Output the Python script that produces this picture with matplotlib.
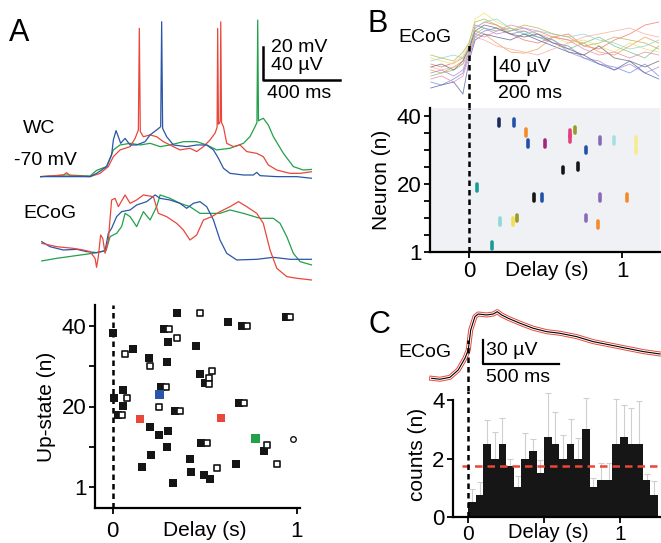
import numpy as np
import matplotlib
matplotlib.use("Agg")
import matplotlib.pyplot as plt
import matplotlib.patheffects as pe

plt.rcParams["font.family"] = ["Liberation Sans", "DejaVu Sans"]

W, H = 661, 543

# ---------- panel A : example traces (ms, mV / uV) ----------
wc_blue_t = [0, 121, 260, 294, 346, 372, 381, 395, 407, 419, 442, 468, 502, 546, 572, 606, 627, 632, 637,
             658, 693, 762, 814, 866, 901, 927, 953, 987, 1057, 1108, 1126, 1143, 1230, 1334, 1412]
wc_blue_v = [-69.8, -69.8, -69.8, -67.8, -63.7, -56.7, -47.6, -41.9, -45.6, -49.6, -46.6, -50.6, -50.6, -48.6,
             -44.5, -41.5, -39.5, 24.1, -40.5, -45.6, -50.6, -51.6, -50.6, -50.6, -53.6, -58.7, -64.7, -67.8,
             -68.8, -68.8, -67.2, -69.2, -69.8, -69.8, -70.8]
wc_red_t = [0, 121, 139, 156, 260, 312, 355, 381, 416, 468, 494, 511, 516, 521, 537, 572, 606, 641, 693, 727,
            779, 814, 849, 883, 909, 920, 923, 927, 932, 936, 939, 943, 953, 970, 1005, 1039, 1074, 1126, 1160,
            1186, 1230, 1299, 1351, 1412]
wc_red_v = [-69.8, -68.8, -67.4, -69.2, -69.8, -67.8, -63.7, -57.7, -53.6, -51.6, -46.6, -41.5, 20.1, -42.5,
            -45.6, -44.5, -45.6, -48.6, -51.6, -53.6, -52.6, -54.6, -51.6, -47.6, -43.5, -40.0, 20.0, -38.0,
            -37.5, -36.0, 24.0, -37.0, -39.5, -49.6, -51.6, -50.6, -54.6, -55.7, -57.7, -62.7, -65.8, -67.8,
            -67.8, -66.8]
wc_green_t = [0, 139, 260, 294, 346, 381, 416, 468, 520, 572, 624, 676, 745, 814, 866, 918, 987, 1057, 1091,
              1117, 1127, 1131, 1135, 1143, 1160, 1186, 1212, 1264, 1316, 1368, 1412]
wc_green_v = [-69.8, -68.8, -69.4, -66.0, -63.7, -53.6, -50.6, -49.6, -50.6, -49.6, -51.6, -50.6, -48.6, -48.6,
              -50.6, -53.6, -52.6, -49.6, -45.5, -39.5, -37.0, 25.1, -36.0, -35.4, -34.4, -38.5, -45.5, -55.6,
              -63.7, -65.8, -65.4]

ecog_red_t = [9, 87, 173, 225, 260, 286, 294, 303, 315, 326, 338, 355, 372, 390, 407, 442, 468, 502, 537, 589,
              615, 658, 710, 745, 779, 814, 849, 892, 935, 987, 1031, 1074, 1126, 1160, 1195, 1230, 1282, 1334, 1412]
ecog_red_v = [8.1, 4.0, 2.0, 0.0, -2.0, -10.1, -21.0, -8.1, 18.2, 14.1, -4.0, 12.1, 60.6, 62.6, 52.5, 66.7,
              56.6, 60.6, 66.7, 64.6, 44.4, 40.4, 32.3, 24.2, 12.1, 18.2, 36.4, 40.4, 46.5, 52.5, 58.6, 52.5,
              44.4, 32.3, 0.0, -22.2, -32.3, -34.3, -36.4]
ecog_blue_t = [9, 52, 121, 191, 242, 294, 338, 355, 372, 398, 424, 468, 502, 554, 598, 624, 676, 727, 762, 797,
               831, 866, 901, 935, 970, 1022, 1126, 1212, 1299, 1412]
ecog_blue_v = [10.1, 4.0, 0.0, 0.8, -2.0, -3.2, -0.8, 20.2, 26.3, 40.4, 46.5, 48.5, 54.5, 58.6, 66.7, 62.6,
               60.6, 56.6, 50.5, 56.6, 58.6, 52.5, 36.4, 12.1, -4.0, -12.1, -11.3, -8.9, -11.3, -11.3]
ecog_green_t = [9, 87, 173, 251, 294, 343, 364, 398, 424, 442, 468, 502, 537, 572, 606, 624, 676, 727, 779, 831,
                883, 935, 987, 1057, 1143, 1212, 1247, 1282, 1316, 1351, 1412]
ecog_green_v = [-13.3, -10.1, -7.3, -4.8, -3.2, -0.8, 16.2, 20.2, 28.3, 44.4, 40.4, 28.3, 46.5, 36.4, 52.5,
                66.7, 62.6, 56.6, 52.5, 44.4, 44.4, 44.4, 48.5, 44.4, 38.4, 38.4, 32.3, 16.2, -4.0, -14.1, -18.2]

# ---------- panel A : up-state onset delays ----------
filled_x = [0.004, 0.348, 0.629, 0.705, 0.942, 0.279, 0.303, 0.453, 0.112, 0.196, 0.295, 0.475, 0.5, 0.263,
            0.056, 0.007, 0.056, 0.031, 0.688, 0.337, 0.205, 0.254, 0.303, 0.295, 0.482, 0.207, 0.161, 0.422,
            0.424, 0.496, 0.529, 0.33, 0.67, 0.822]
filled_y = [38.1, 43.2, 41.0, 40.0, 42.2, 39.1, 35.9, 35.0, 34.1, 32.1, 31.0, 28.0, 25.7, 24.9, 24.2, 22.0,
            20.1, 17.9, 20.9, 19.0, 15.0, 12.9, 14.0, 9.9, 10.9, 8.0, 5.1, 7.0, 3.9, 3.1, 2.0, 1.0, 5.9, 9.0]
open_x = [0.475, 0.732, 0.964, 0.306, 0.35, 0.065, 0.201, 0.538, 0.525, 0.522, 0.288, 0.078, 0.25, 0.368,
          0.716, 0.053, 0.511, 0.837, 0.567, 0.893]
open_y = [43.1, 40.0, 42.2, 39.1, 36.9, 33.0, 30.0, 28.8, 27.0, 25.6, 24.9, 22.0, 20.0, 19.0, 20.9, 17.9,
          10.9, 10.6, 4.9, 5.9]
circle_x = [0.982]
circle_y = [11.9]
example_x = [0.15, 0.254, 0.589, 0.777]
example_y = [16.9, 23.0, 17.1, 12.1]
example_c = ["#e8473a", "#2a55a8", "#e8473a", "#22a04a"]

# ---------- panel B : ECoG traces (s, uV) and neuron raster ----------
tb = [-0.25, -0.18, -0.1, -0.04, 0.0, 0.04, 0.1, 0.18, 0.27, 0.36, 0.45, 0.55, 0.65, 0.75, 0.85, 0.95, 1.05,
      1.15, 1.24]
ecog_b = {
    "#f07a70": [10, 5, 12, 20, 35, 70, 80, 75, 60, 50, 45, 55, 60, 40, 35, 50, 60, 75, 80],
    "#f5a05a": [0, -5, 5, 15, 40, 65, 60, 45, 30, 28, 35, 55, 50, 45, 30, 25, 40, 55, 45],
    "#f0e070": [20, 15, 10, 25, 45, 85, 95, 80, 70, 65, 60, 55, 45, 50, 40, 30, 45, 35, 30],
    "#7cc47c": [-10, -5, 0, 10, 30, 60, 70, 65, 70, 60, 55, 50, 35, 45, 55, 40, 30, 20, 40],
    "#7a8ee0": [-20, -25, -15, -5, 25, 55, 65, 70, 60, 65, 55, 45, 40, 20, 10, 5, -5, 10, -10],
    "#b28ad0": [-5, 0, -10, 0, 30, 75, 70, 60, 65, 70, 60, 50, 30, 20, 15, 0, 10, -5, 5],
    "#707070": [5, 10, 0, 15, 35, 65, 75, 70, 60, 55, 60, 45, 35, 25, 40, 20, 15, 5, 15],
    "#8fd6d6": [15, 20, 25, 20, 40, 70, 80, 85, 70, 60, 65, 60, 55, 60, 50, 45, 35, 40, 50],
    "#ee88b0": [-15, -10, -20, -10, 20, 60, 55, 65, 75, 70, 65, 55, 50, 35, 25, 30, 20, 30, 25],
    "#5a6aa8": [-30, -25, -20, -40, 15, 50, 60, 55, 50, 60, 50, 40, 30, 25, 10, 0, 15, -5, -15],
    "#b8b860": [25, 20, 15, 30, 45, 80, 85, 75, 65, 75, 70, 60, 55, 40, 45, 55, 50, 45, 35],
    "#f4b0a0": [5, 0, 5, 10, 30, 55, 50, 40, 35, 30, 25, 35, 45, 55, 60, 65, 70, 60, 55],
}
raster_x = [0.198, 0.291, 0.37, 0.387, 0.496, 0.661, 0.661, 0.693, 0.854, 0.946, 1.093, 1.093, 0.767, 0.615,
            0.709, 0.05, 0.424, 0.48, 0.854, 1.035, 0.202, 0.285, 0.311, 0.763, 0.843, 0.148]
raster_y = [38.0, 38.0, 35.1, 31.9, 31.9, 33.3, 34.9, 35.9, 32.9, 32.9, 32.9, 30.0, 30.0, 24.1, 25.1, 19.0,
            16.0, 16.0, 16.0, 16.0, 9.0, 9.0, 10.0, 10.0, 8.1, 2.0]
raster_c = ["#1e2a5e", "#2150a8", "#f28c2a", "#2150a8", "#a0287c", "#e4407c", "#e4407c", "#9a9a2c",
            "#8a6ab8", "#a8e0e0", "#f6ec8c", "#f6ec8c", "#2150a8", "#151515", "#151515", "#1a9a96",
            "#151515", "#2150a8", "#8a6ab8", "#f28c2a", "#8fd8d8", "#f0e050", "#9a9a2c", "#8a6ab8",
            "#f28c2a", "#1a9a96"]

# ---------- panel C : average ECoG and histogram ----------
ecog_c_t = [-0.241, -0.187, -0.121, -0.066, -0.022, 0.0, 0.016, 0.044, 0.066, 0.121, 0.165, 0.191, 0.22,
            0.264, 0.341, 0.429, 0.517, 0.604, 0.714, 0.824, 0.934, 1.044, 1.156, 1.264]
ecog_c_v = [0.0, -1.2, 1.2, 10.4, 25.0, 35.4, 60.4, 77.1, 80.4, 79.2, 80.4, 83.3, 79.2, 75.0, 68.8, 62.5,
            58.3, 56.3, 52.1, 45.8, 41.7, 37.5, 33.3, 30.4]
counts = [0.52, 0.76, 2.5, 2.0, 2.5, 1.75, 1.02, 2.0, 2.25, 1.5, 2.75, 2.5, 2.0, 2.5, 2.0, 3.0, 1.02, 1.27,
          1.27, 2.5, 2.75, 2.5, 2.5, 1.27, 0.76]
counts_err_top = [0.95, 1.21, 3.33, 2.9, 3.4, 1.97, 1.4, 2.88, 2.67, 1.95, 4.25, 3.6, 2.8, 3.36, 2.7, 4.07,
                  1.35, 1.85, 1.85, 4.05, 3.82, 3.73, 3.96, 1.46, 1.24]
bin_w = 0.05
mean_count = 1.75

RED, BLUE, GREEN = "#e8473a", "#2a55a8", "#22a04a"


def rect(l, t, r, b):
    return [l / W, 1 - b / H, (r - l) / W, (b - t) / H]


def ftext(x, y, s, size=14, **kw):
    fig.text(x / W, 1 - y / H, s, fontsize=size, va="top", **kw)


def style_axis(ax, xpad):
    for sp in ("top", "right"):
        ax.spines[sp].set_visible(False)
    for sp in ("left", "bottom"):
        ax.spines[sp].set_linewidth(1.6)
    ax.tick_params(which="both", direction="out", width=1.3, length=4.5, labelsize=16)
    ax.tick_params(axis="y", pad=1.5)
    ax.tick_params(axis="x", pad=xpad)


fig = plt.figure(figsize=(W / 100, H / 100), dpi=100)

# A traces
ax_wc = fig.add_axes(rect(40, 10, 312, 290))
ax_wc.set_xlim(0, 1413)
ax_wc.set_ylim(-138.5, 31.2)
ax_wc.axis("off")
for t, v, c in [(wc_green_t, wc_green_v, GREEN), (wc_red_t, wc_red_v, RED), (wc_blue_t, wc_blue_v, BLUE)]:
    ax_wc.plot(t, v, color=c, lw=0.9)
ax_wc.plot([1158, 1158, 1558], [8.8, -11.2, -11.2], color="k", lw=1.8, clip_on=False)

ax_ea = fig.add_axes(rect(40, 10, 312, 290))
ax_ea.set_xlim(0, 1413)
ax_ea.set_ylim(-48.5, 290.9)
ax_ea.axis("off")
for t, v, c in [(ecog_green_t, ecog_green_v, GREEN), (ecog_blue_t, ecog_blue_v, BLUE), (ecog_red_t, ecog_red_v, RED)]:
    ax_ea.plot(t, v, color=c, lw=0.9)

# A scatter
ax_s = fig.add_axes(rect(95, 305, 300, 508))
style_axis(ax_s, 5)
ax_s.set_xlim(-0.096, 1.018)
ax_s.set_ylim(-5.1, 45.1)
ax_s.axvline(0, color="k", ls=(0, (2.2, 1.6)), lw=1.8, zorder=1)
ax_s.scatter(filled_x, filled_y, marker="s", s=36, c="#151515", lw=0, zorder=3)
ax_s.scatter(open_x, open_y, marker="s", s=22, facecolors="white", edgecolors="#151515", lw=1.2, zorder=4)
ax_s.scatter(circle_x, circle_y, marker="o", s=16, facecolors="white", edgecolors="#151515", lw=1.0, zorder=4)
ax_s.scatter(example_x, example_y, marker="s", s=36, c=example_c, lw=0, zorder=5)
ax_s.set_xticks([0, 1], ["0", "1"])
ax_s.set_yticks([0, 20, 40], ["1", "20", "40"])
ax_s.set_yticks([10, 30], minor=True)
ax_s.set_ylabel("Up-state (n)", fontsize=15, labelpad=4)

# B ECoG traces
ax_eb = fig.add_axes(rect(430, 0, 660, 108))
ax_eb.set_xlim(-0.255, 1.248)
ax_eb.set_ylim(-63.3, 116.7)
ax_eb.axis("off")
for c, v in ecog_b.items():
    ax_eb.plot(tb, v, color=c, lw=0.6, alpha=0.85)
ax_eb.axvline(0, ymin=0, ymax=0.61, color="k", ls=(0, (2.2, 1.6)), lw=1.8)
ax_eb.plot([0.17, 0.17, 0.37], [21.7, -18.3, -18.3], color="k", lw=1.6, clip_on=False)

# B raster
ax_r = fig.add_axes(rect(430, 108, 660, 252))
style_axis(ax_r, 2)
ax_r.set_facecolor("#eff1f4")
ax_r.set_xlim(-0.255, 1.248)
ax_r.set_ylim(0, 42.35)
ax_r.axvline(0, color="k", ls=(0, (2.2, 1.6)), lw=1.8, zorder=1)
marks = ax_r.vlines(raster_x, np.array(raster_y) - 1.0, np.array(raster_y) + 1.0, colors=raster_c, lw=2.6, zorder=3)
marks.set_capstyle("round")
ax_r.set_xticks([0, 1], ["0", "1"])
ax_r.set_yticks([0, 20, 40], ["1", "20", "40"])
ax_r.set_yticks([5, 10, 15, 25, 30, 35], minor=True)
ax_r.set_ylabel("Neuron (n)", fontsize=15, labelpad=4)

# C ECoG mean
ax_ec = fig.add_axes(rect(432, 300, 661, 391))
ax_ec.set_xlim(-0.239, 1.27)
ax_ec.set_ylim(-15.9, 97.9)
ax_ec.axis("off")
ax_ec.plot(ecog_c_t, ecog_c_v, color="k", lw=0.8, clip_on=False,
           path_effects=[pe.Stroke(linewidth=3.6, foreground=RED), pe.Stroke(linewidth=2.2, foreground="white"),
                         pe.Normal()])
ax_ec.axvline(0, ymin=0, ymax=0.56, color="k", ls=(0, (2.2, 1.6)), lw=1.8)
ax_ec.plot([0.097, 0.097, 0.597], [47.9, 17.9, 17.9], color="k", lw=1.6, clip_on=False)

# C histogram
ax_h = fig.add_axes(rect(453, 391, 661, 517))
style_axis(ax_h, 1)
ax_h.spines["left"].set_bounds(0, 4)
ax_h.set_xlim(-0.1, 1.27)
ax_h.set_ylim(0, 4.31)
lefts = np.arange(len(counts)) * bin_w
centers = lefts + bin_w / 2
up = np.array(counts_err_top) - np.array(counts)
ax_h.errorbar(centers, counts, yerr=[np.zeros(len(counts)), up], fmt="none", ecolor="#cfcfcf",
              elinewidth=0.8, capsize=2, capthick=0.8, zorder=1)
ax_h.bar(lefts, counts, width=bin_w, align="edge", color="#161616", lw=0, zorder=2)
ax_h.axhline(mean_count, xmin=0.045, color=RED, ls=(0, (3, 2)), lw=1.8, zorder=3)
ax_h.axvline(0, color="k", ls=(0, (2.2, 1.6)), lw=1.8, zorder=4)
ax_h.set_xticks([0, 0.5, 1], ["0", "", "1"])
ax_h.tick_params(axis="x", labelsize=15)
ax_h.set_yticks([0, 2, 4])
ax_h.set_ylabel("counts (n)", fontsize=15, labelpad=4)

# text labels
ftext(205, 521, "Delay (s)", 15, ha="center")
ftext(547, 261, "Delay (s)", 15, ha="center")
ftext(548, 523, "Delay (s)", 14.5, ha="center")

ftext(9, 18, "A", 22)
ftext(23, 120, "WC")
ftext(14, 152, "-70 mV")
ftext(23, 205, "ECoG")
ftext(271, 39, "20 mV")
ftext(271, 57, "40 \u00b5V")
ftext(267, 85, "400 ms")

ftext(368, 9, "B", 22)
ftext(398, 29, "ECoG")
ftext(499, 59, "40 \u00b5V")
ftext(498, 85, "200 ms")

ftext(368, 310, "C", 22)
ftext(398, 344, "ECoG")
ftext(486, 342, "30 \u00b5V")
ftext(486, 369, "500 ms")

fig.savefig("out.png", dpi=100)
